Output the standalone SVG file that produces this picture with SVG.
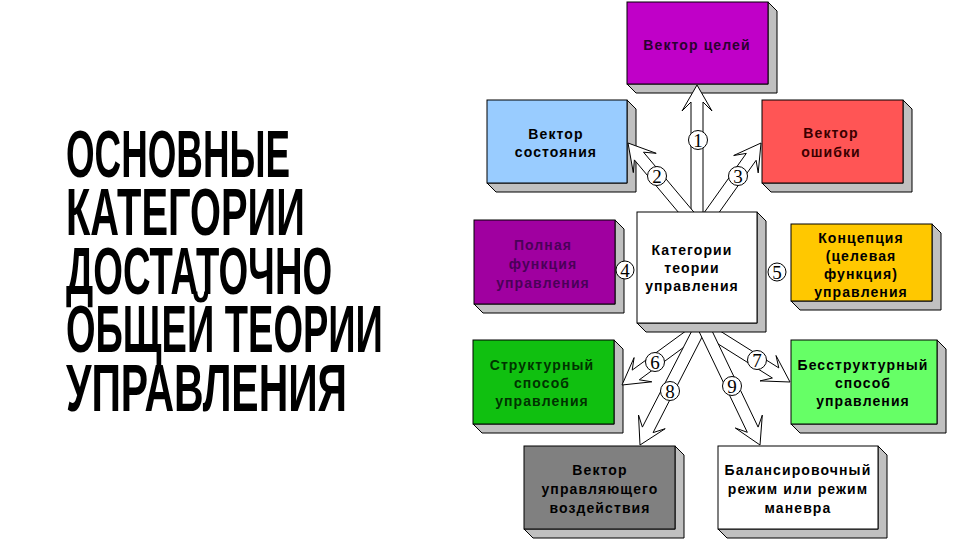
<svg xmlns="http://www.w3.org/2000/svg" width="964" height="540" viewBox="0 0 964 540">
<style>
.title{font-family:"Liberation Sans",Arial,sans-serif;font-weight:bold;font-size:67px;fill:#000}
.face{stroke:#000;stroke-width:1}
.shade{fill:#c0c0c0;stroke:#000;stroke-width:1;stroke-linejoin:round}
.lbl{font-family:"Liberation Sans",Arial,sans-serif;font-weight:bold;font-size:14px;letter-spacing:1.1px;text-anchor:middle;fill:#000}
.arrow{fill:#fff;stroke:#000;stroke-width:1;stroke-linejoin:miter}
.num circle{fill:#fff;stroke:#000;stroke-width:1}
.num text{font-family:"Liberation Serif","Times New Roman",serif;font-size:19px;text-anchor:middle;fill:#000}
</style>
<rect width="964" height="540" fill="#fff"/>
<g id="title">
<text class="title" transform="matrix(0.57,0,0,1,66,177)" x="0" y="0" textLength="393" lengthAdjust="spacingAndGlyphs">ОСНОВНЫЕ</text>
<text class="title" transform="matrix(0.57,0,0,1,66,235)" x="0" y="0" textLength="419" lengthAdjust="spacingAndGlyphs">КАТЕГОРИИ</text>
<text class="title" transform="matrix(0.57,0,0,1,66,294)" x="0" y="0" textLength="467" lengthAdjust="spacingAndGlyphs">ДОСТАТОЧНО</text>
<text class="title" transform="matrix(0.57,0,0,1,66,352)" x="0" y="0" textLength="556" lengthAdjust="spacingAndGlyphs">ОБЩЕЙ ТЕОРИИ</text>
<text class="title" transform="matrix(0.57,0,0,1,66,411)" x="0" y="0" textLength="493" lengthAdjust="spacingAndGlyphs">УПРАВЛЕНИЯ</text>
</g>
<g id="n-goal">
<polygon class="shade" points="768,2 777,11 777,93 636,93 627,84 768,84"/>
<rect class="face" x="627" y="2" width="141" height="82" fill="#c000c8"/>
<text class="lbl" x="697" y="50" style="fill:#2a0030">Вектор целей</text>
</g>
<g id="n-state">
<polygon class="shade" points="627,100 636,109 636,192 496,192 487,183 627,183"/>
<rect class="face" x="487" y="100" width="140" height="83" fill="#99ccff"/>
<text class="lbl" x="556" y="139">Вектор</text>
<text class="lbl" x="556" y="157">состояния</text>
</g>
<g id="n-error">
<polygon class="shade" points="903,100 912,109 912,192 771,192 762,183 903,183"/>
<rect class="face" x="762" y="100" width="141" height="83" fill="#ff5555"/>
<text class="lbl" x="831" y="138" style="fill:#3a0000">Вектор</text>
<text class="lbl" x="831" y="157" style="fill:#3a0000">ошибки</text>
</g>
<g id="n-full">
<polygon class="shade" points="615,220 624,229 624,313 483,313 474,304 615,304"/>
<rect class="face" x="474" y="220" width="141" height="84" fill="#a000a0"/>
<text class="lbl" x="543" y="250" style="fill:#4a0058">Полная</text>
<text class="lbl" x="543" y="269" style="fill:#4a0058">функция</text>
<text class="lbl" x="543" y="288" style="fill:#4a0058">управления</text>
</g>
<g id="n-concept">
<polygon class="shade" points="932,224 941,233 941,310 800,310 791,301 932,301"/>
<rect class="face" x="791" y="224" width="141" height="77" fill="#ffc800"/>
<text class="lbl" x="861" y="243">Концепция</text>
<text class="lbl" x="861" y="261">(целевая</text>
<text class="lbl" x="861" y="279">функция)</text>
<text class="lbl" x="861" y="297">управления</text>
</g>
<g id="n-struct">
<polygon class="shade" points="614,340 623,349 623,433 482,433 473,424 614,424"/>
<rect class="face" x="473" y="340" width="141" height="84" fill="#10c010"/>
<text class="lbl" x="542" y="370" style="fill:#003300">Структурный</text>
<text class="lbl" x="542" y="388" style="fill:#003300">способ</text>
<text class="lbl" x="542" y="406" style="fill:#003300">управления</text>
</g>
<g id="n-nostruct">
<polygon class="shade" points="937,340 946,349 946,433 800,433 791,424 937,424"/>
<rect class="face" x="791" y="340" width="146" height="84" fill="#66ff66"/>
<text class="lbl" x="863" y="370">Бесструктурный</text>
<text class="lbl" x="863" y="388">способ</text>
<text class="lbl" x="863" y="406">управления</text>
</g>
<g id="n-control">
<polygon class="shade" points="675,446 684,455 684,538 533,538 524,529 675,529"/>
<rect class="face" x="524" y="446" width="151" height="83" fill="#808080"/>
<text class="lbl" x="600" y="475">Вектор</text>
<text class="lbl" x="600" y="494">управляющего</text>
<text class="lbl" x="600" y="513">воздействия</text>
</g>
<g id="n-balance">
<polygon class="shade" points="878,446 887,455 887,538 727,538 718,529 878,529"/>
<rect class="face" x="718" y="446" width="160" height="83" fill="#ffffff"/>
<text class="lbl" x="798" y="475">Балансировочный</text>
<text class="lbl" x="798" y="494">режим или режим</text>
<text class="lbl" x="798" y="513">маневра</text>
</g>
<g id="connectors">
<polygon class="arrow" points="697,85 712,111 703,102 703,214 691,214 691,102 682,111"/>
<polygon class="arrow" points="628,143 656.2,153.3 643.5,152.2 693.8,212 684.6,219.7 634.4,159.9 633.3,172.6"/>
<polygon class="arrow" points="761,143 758.2,172.9 756.1,160.3 714,219.6 704.2,212.6 746.3,153.4 733.7,155.5"/>
<polygon class="arrow" points="622,385 634.1,357.6 632.2,370.1 696.5,323.2 703.5,332.8 639.3,379.8 651.8,381.8"/>
<polygon class="arrow" points="790,382 760,380.9 772.4,378 700.8,333.1 707.2,322.9 778.8,367.9 776,355.5"/>
<polygon class="arrow" points="640,445 638.5,415 642.4,427.1 694.7,325.3 705.3,330.7 653.1,432.6 665.2,428.7"/>
<polygon class="arrow" points="760,445 735.3,428 747.3,432.3 698.6,330.6 709.4,325.4 758.1,427.1 762.3,415.1"/>
<g class="num"><circle cx="698" cy="140" r="9.5"/><text x="698" y="147">1</text></g>
<g class="num"><circle cx="657" cy="176" r="9.5"/><text x="657" y="183">2</text></g>
<g class="num"><circle cx="738" cy="176" r="9.5"/><text x="738" y="183">3</text></g>
<g class="num"><circle cx="625" cy="270" r="9"/><text x="625" y="277">4</text></g>
<g class="num"><circle cx="777" cy="272" r="9"/><text x="777" y="279">5</text></g>
<g class="num"><circle cx="655" cy="362" r="9.5"/><text x="655" y="369">6</text></g>
<g class="num"><circle cx="757" cy="360" r="9.5"/><text x="757" y="367">7</text></g>
<g class="num"><circle cx="670" cy="391" r="9.5"/><text x="670" y="398">8</text></g>
<g class="num"><circle cx="732" cy="386" r="9.5"/><text x="732" y="393">9</text></g>
</g>
<g id="n-center">
<polygon class="shade" points="757,212 766,221 766,332 646,332 637,323 757,323"/>
<rect class="face" x="637" y="212" width="120" height="111" fill="#ffffff"/>
<text class="lbl" x="692" y="255">Категории</text>
<text class="lbl" x="692" y="273">теории</text>
<text class="lbl" x="692" y="291">управления</text>
</g>
</svg>
